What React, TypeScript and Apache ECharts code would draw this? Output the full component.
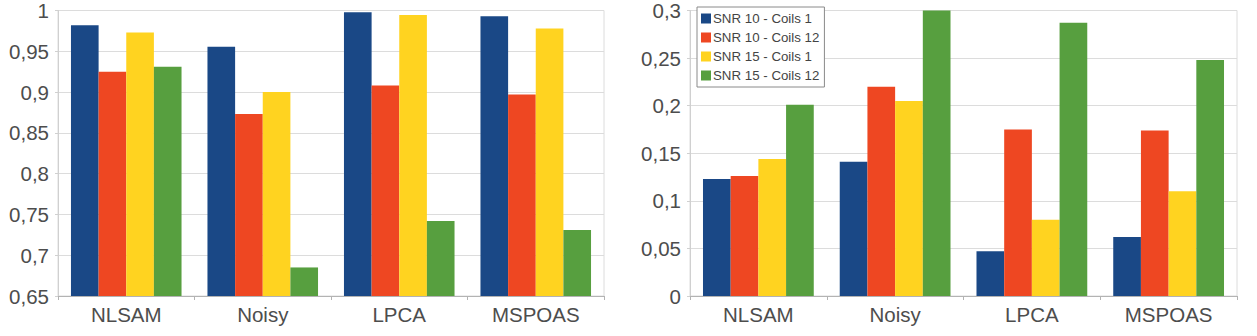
import React, { useEffect, useRef } from "react";
import * as echarts from "echarts";

const categories = ["NLSAM", "Noisy", "LPCA", "MSPOAS"];
const seriesNames = ["SNR 10 - Coils 1", "SNR 10 - Coils 12", "SNR 15 - Coils 1", "SNR 15 - Coils 12"];
const colors = ["#1a4886", "#ee4722", "#ffd320", "#579f3f"];

// Left chart values
const leftSnr10Coils1 = [0.982, 0.9555, 0.998, 0.993];
const leftSnr10Coils12 = [0.925, 0.873, 0.908, 0.897];
const leftSnr15Coils1 = [0.973, 0.9, 0.9945, 0.978];
const leftSnr15Coils12 = [0.931, 0.685, 0.742, 0.731];

// Right chart values
const rightSnr10Coils1 = [0.123, 0.141, 0.047, 0.062];
const rightSnr10Coils12 = [0.126, 0.22, 0.175, 0.174];
const rightSnr15Coils1 = [0.144, 0.205, 0.08, 0.11];
const rightSnr15Coils12 = [0.201, 0.3, 0.287, 0.248];

const leftAxis = { min: 0.65, max: 1, interval: 0.05 };
const rightAxis = { min: 0, max: 0.3, interval: 0.05 };

const fmt = (v: number) => String(Math.round(v * 100) / 100).replace(".", ",");

export default function App() {
  const ref = useRef<HTMLDivElement>(null);
  useEffect(() => {
    if (!ref.current) return;
    const chart = echarts.init(ref.current, undefined, { renderer: "svg" });
    const font = "Liberation Sans, Arial, sans-serif";
    const xAxisCommon = {
      type: "category" as const,
      data: categories,
      axisLine: { show: true, lineStyle: { color: "#b3b3b3" } },
      axisTick: { show: true, length: 4, lineStyle: { color: "#b3b3b3" } },
      axisLabel: { color: "#4d4d4d", fontSize: 20.5, fontFamily: font, margin: 8 },
    };
    const yAxisCommon = {
      type: "value" as const,
      axisLine: { show: true, lineStyle: { color: "#d0d0d0" } },
      axisTick: { show: true, length: 3, lineStyle: { color: "#d0d0d0" } },
      splitLine: { show: true, lineStyle: { color: "#dcdcdc" } },
      axisLabel: { color: "#4d4d4d", fontSize: 20.5, fontFamily: font, margin: 9, formatter: fmt },
    };
    const leftData = [leftSnr10Coils1, leftSnr10Coils12, leftSnr15Coils1, leftSnr15Coils12];
    const rightData = [rightSnr10Coils1, rightSnr10Coils12, rightSnr15Coils1, rightSnr15Coils12];
    const series: any[] = [];
    leftData.forEach((d, i) =>
      series.push({
        type: "bar",
        name: seriesNames[i],
        data: d,
        xAxisIndex: 0,
        yAxisIndex: 0,
        barGap: "0%",
        barCategoryGap: "19%",
        itemStyle: { color: colors[i] },
      })
    );
    rightData.forEach((d, i) =>
      series.push({
        type: "bar",
        name: seriesNames[i],
        data: d,
        xAxisIndex: 1,
        yAxisIndex: 1,
        barGap: "0%",
        barCategoryGap: "19%",
        itemStyle: { color: colors[i] },
      })
    );
    chart.setOption({
      animation: false,
      backgroundColor: "#ffffff",
      color: colors,
      grid: [
        { left: 58, right: 653, top: 6, bottom: 40, show: true, borderColor: "#dcdcdc", borderWidth: 1 },
        { left: 690, right: 20, top: 6, bottom: 40, show: true, borderColor: "#dcdcdc", borderWidth: 1 },
      ],
      legend: {
        show: true,
        data: seriesNames,
        orient: "vertical",
        left: 697,
        top: 7,
        itemWidth: 10,
        itemHeight: 10,
        itemGap: 6,
        padding: [5, 5, 5, 4],
        borderColor: "#8a8a8a",
        borderWidth: 1,
        backgroundColor: "#ffffff",
        icon: "rect",
        textStyle: { color: "#444", fontSize: 13.3, fontFamily: font, padding: [0, 0, 0, -3] },
      },
      xAxis: [
        { ...xAxisCommon, gridIndex: 0 },
        { ...xAxisCommon, gridIndex: 1 },
      ],
      yAxis: [
        { ...yAxisCommon, gridIndex: 0, ...leftAxis },
        { ...yAxisCommon, gridIndex: 1, ...rightAxis },
      ],
      series,
    });
    return () => chart.dispose();
  }, []);
  return (
    <div
      ref={ref}
      style={{ position: "fixed", left: 0, top: 0, width: 1257, height: 336, background: "#fff" }}
    />
  );
}
